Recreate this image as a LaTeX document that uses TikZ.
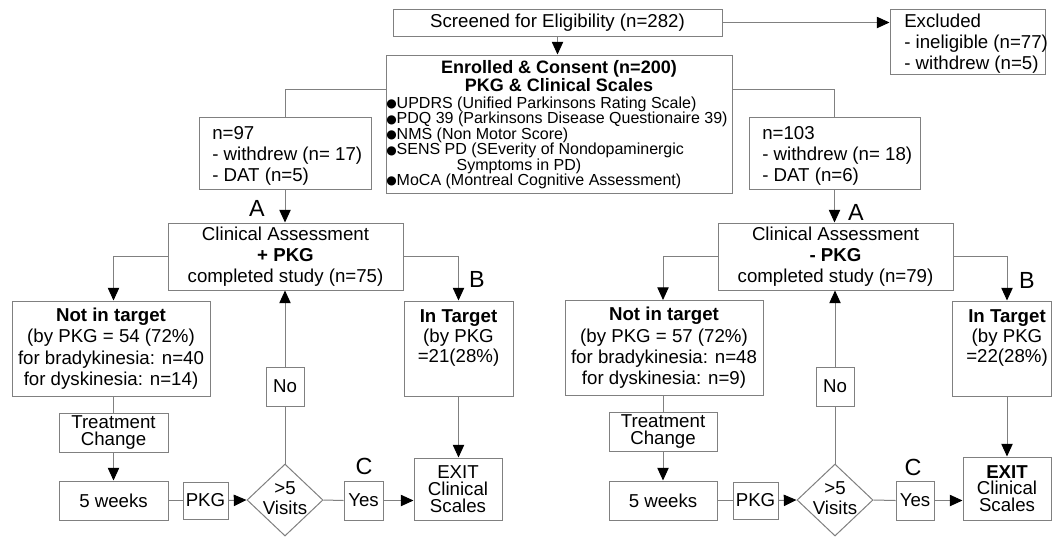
\documentclass[tikz,border=0pt]{standalone}
\usepackage{fontspec}
\setmainfont{Liberation Sans}
\newfontfamily\dvfont{DejaVu Sans}
\usetikzlibrary{arrows.meta,shapes.geometric,calc}
\definecolor{ln}{RGB}{128,128,128}
\newcommand{\bul}{\raisebox{0.1ex}{\dvfont\fontsize{9}{9}\selectfont ●}}
\begin{document}
\begin{tikzpicture}[x=0.75pt,y=-0.75pt,
  box/.style={draw=ln, line width=0.75pt, inner sep=0pt, align=center, font=\fontsize{14}{16}\selectfont},
  sz/.style 2 args={minimum width=#1*0.75pt, minimum height=#2*0.75pt},
  txt/.style={inner sep=0pt, font=\fontsize{14}{16}\selectfont},
  conn/.style={draw=ln, line width=0.75pt},
  arr/.style={conn, -{Triangle[length=9.5pt,width=8.5pt,color=black]}},
  lbl/.style={inner sep=0pt, font=\fontsize{17.5}{17.5}\selectfont},
  dia/.style={draw=ln, line width=0.75pt, diamond, inner sep=0pt, minimum width=76*0.75pt, minimum height=72*0.75pt}
]
\useasboundingbox (0,0) rectangle (1052,536);
\fill[white] (0,0) rectangle (1052,536);

% top
\node[box,sz={329}{27}] (scr) at (557.5,22.5) {Screened for Eligibility (n=282)};
\node[box,sz={155}{65}] (exc) at (967.5,41.5) {};
\node[txt,anchor=west,align=left] (excT) at (904,43.5) {Excluded\\- ineligible (n=77)\\- withdrew (n=5)};

\node[box,sz={346}{138}] (enr) at (559,124) {};
\node[inner sep=0pt,align=center,font=\bfseries\fontsize{13.5}{12.5}\selectfont] (enrT) at (559,76) {Enrolled \& Consent (n=200)\\PKG \& Clinical Scales};
\node[inner sep=0pt,anchor=west,align=left,font=\fontsize{12}{11.6}\selectfont] (enrL) at (386,143)
 {\bul UPDRS (Unified Parkinsons Rating Scale)\\
  \bul PDQ 39 (Parkinsons Disease Questionaire 39)\\
  \bul NMS (Non Motor Score)\\
  \bul SENS PD (SEverity of Nondopaminergic\\
  \hphantom{\bul}\hspace*{45pt}Symptoms in PD)\\
  \bul MoCA (Montreal Cognitive Assessment)};

\node[box,sz={172}{72}] (n97) at (285,153) {};
\node[txt,anchor=west,align=left] (n97T) at (212,156) {n=97\\- withdrew (n= 17)\\- DAT (n=5)};
\node[box,sz={171}{72}] (n103) at (834.5,153) {};
\node[txt,anchor=west,align=left] (n103T) at (762,156) {n=103\\- withdrew (n= 18)\\- DAT (n=6)};

% left arm
\node[box,sz={235}{67}] (caL) at (285.5,256.5) {Clinical Assessment\\\textbf{+ PKG}\\completed study (n=75)};
\node[box,sz={198}{95}] (nitL) at (111,348.5) {\textbf{Not in target}\\(by PKG = 54 (72\%)\\for bradykinesia: n=40\\for dyskinesia: n=14)};
\node[box,sz={109}{95}] (itL) at (458.5,348.5) {};
\node[inner sep=0pt,align=center,font=\fontsize{14}{15}\selectfont] (itLT) at (458.5,338) {\textbf{In Target}\\(by PKG\\=21(28\%)};
\node[box,sz={109}{39},font=\fontsize{14}{12.5}\selectfont] (trL) at (113.5,432.5) {Treatment\\Change};
\node[box,sz={109}{39}] (wkL) at (113.5,500.5) {5 weeks};
\node[box,sz={45}{37}] (pkgL) at (205.5,500.5) {PKG};
\node[dia] (diaL) at (285,500) {};
\node[inner sep=0pt,align=center,font=\fontsize{14}{15}\selectfont] (diaLT) at (285,498) {>5\\Visits};
\node[box,sz={38}{39}] (noL) at (285,386.5) {No};
\node[box,sz={39}{39}] (yesL) at (363.5,500.5) {Yes};
\node[box,sz={88}{62},font=\fontsize{14}{12.6}\selectfont] (exL) at (458,489) {EXIT\\Clinical\\Scales};

% right arm
\node[box,sz={235}{67}] (caR) at (835.5,256.5) {Clinical Assessment\\\textbf{- PKG}\\completed study (n=79)};
\node[box,sz={198}{95}] (nitR) at (664,348) {\textbf{Not in target}\\(by PKG = 57 (72\%)\\for bradykinesia: n=48\\for dyskinesia: n=9)};
\node[box,sz={99.5}{95}] (itR) at (1001.75,348.5) {};
\node[inner sep=0pt,align=center,font=\fontsize{14}{15}\selectfont] (itRT) at (1007,338) {\textbf{In Target}\\(by PKG\\=22(28\%)};
\node[box,sz={108}{39},font=\fontsize{14}{12.5}\selectfont] (trR) at (663,431.5) {Treatment\\Change};
\node[box,sz={108}{39}] (wkR) at (663,500.5) {5 weeks};
\node[box,sz={45}{37}] (pkgR) at (755.5,500.5) {PKG};
\node[dia] (diaR) at (835,500) {};
\node[inner sep=0pt,align=center,font=\fontsize{14}{15}\selectfont] (diaRT) at (835,498) {>5\\Visits};
\node[box,sz={38}{39}] (noR) at (835,386.5) {No};
\node[box,sz={38}{39}] (yesR) at (915,500.5) {Yes};
\node[box,sz={88}{63},font=\fontsize{14}{12.6}\selectfont] (exR) at (1007,488.5) {\textbf{EXIT}\\Clinical\\Scales};

% labels
\node[lbl] (aL) at (257,208) {A};
\node[lbl] (aR) at (856,212) {A};
\node[lbl] (bL) at (477,279) {B};
\node[lbl] (bR) at (1027,280) {B};
\node[lbl] (cL) at (364,466) {C};
\node[lbl] (cR) at (913,467) {C};

% connectors top
\draw[arr] (scr.south) -- (scr.south |- enr.north);
\draw[arr] (scr.east) -- (scr.east -| exc.west);
\draw[conn] ($(enr.west)+(0,-35)$) -| (n97.north);
\draw[conn] ($(enr.east)+(0,-35)$) -| (n103.north);
\draw[arr] (n97.south) -- (n97.south |- caL.north);
\draw[arr] (n103.south) -- (n103.south |- caR.north);

% left arm connectors
\draw[arr] (caL.west) -| (trL.north |- nitL.north);
\draw[arr] (caL.east) -| (itL.north);
\draw[conn] (trL.north |- nitL.south) -- (trL.north);
\draw[arr] (trL.south) -- (wkL.north);
\draw[conn] (wkL.east) -- (pkgL.west);
\draw[arr] (pkgL.east) -- (diaL.west);
\draw[conn] (diaL.north) -- (noL.south);
\draw[arr] (noL.north) -- (noL.north |- caL.south);
\draw[conn] (diaL.east) -- (yesL.west);
\draw[arr] (yesL.east) -- (exL.west |- yesL.east);
\draw[arr] (itL.south) -- (itL.south |- exL.north);

% right arm connectors
\draw[arr] (caR.west) -| (trR.north |- nitR.north);
\draw[arr] (caR.east) -| (itRT |- itR.north);
\draw[conn] (trR.north |- nitR.south) -- (trR.north);
\draw[arr] (trR.south) -- (wkR.north);
\draw[conn] (wkR.east) -- (pkgR.west);
\draw[arr] (pkgR.east) -- (diaR.west);
\draw[conn] (diaR.north) -- (noR.south);
\draw[arr] (noR.north) -- (noR.north |- caR.south);
\draw[conn] (diaR.east) -- (yesR.west);
\draw[arr] (yesR.east) -- (exR.west |- yesR.east);
\draw[arr] (itRT |- itR.south) -- (itRT |- exR.north);
\end{tikzpicture}
\end{document}
